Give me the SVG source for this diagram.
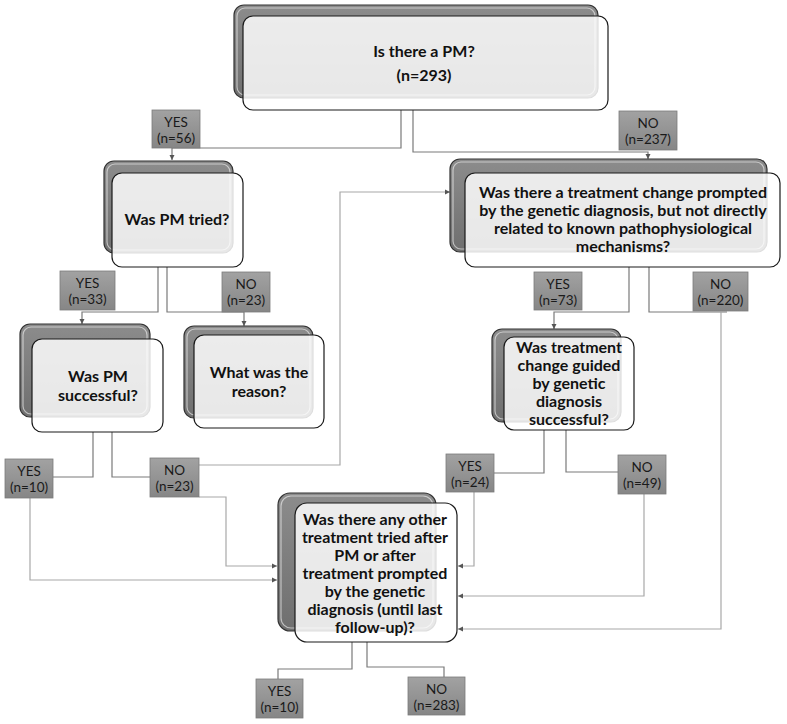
<svg xmlns="http://www.w3.org/2000/svg" width="787" height="724" viewBox="0 0 787 724">
<defs>
<linearGradient id="gBack" x1="0" y1="0" x2="0" y2="1">
<stop offset="0" stop-color="#8c8c8c"/><stop offset="1" stop-color="#6f6f6f"/>
</linearGradient>
<linearGradient id="gLab" x1="0" y1="0" x2="0" y2="1">
<stop offset="0" stop-color="#a2a2a2"/><stop offset="1" stop-color="#868686"/>
</linearGradient>
<marker id="arr" markerWidth="6" markerHeight="6" refX="5" refY="3" orient="auto" markerUnits="userSpaceOnUse">
<path d="M0,0.5 L5,3 L0,5.5 Z" fill="#555"/>
</marker>
<style>
.back{fill:url(#gBack);stroke:#333;stroke-width:1.2}
.gloss{fill:none;stroke:#fff;stroke-opacity:0.55;stroke-width:1.2}
.front{fill:#fff;fill-opacity:0.84;stroke:#1a1a1a;stroke-width:1.2}
.nt{font-family:Lato,"Liberation Sans",Arial,sans-serif;font-weight:bold;font-size:16px;fill:#111;text-anchor:middle}
.lab rect{fill:url(#gLab);stroke:#7c7c7c;stroke-width:0.8}
.lt{font-family:Lato,"Liberation Sans",Arial,sans-serif;font-size:13.5px;fill:#1a1a1a;text-anchor:middle}
.c{fill:none;stroke:#7a7a7a;stroke-width:1.2}
.cl{fill:none;stroke:#a8a8a8;stroke-width:1.2}
.a{marker-end:url(#arr)}
</style>
</defs>
<rect width="787" height="724" fill="#fff"/>

<g id="connectors">
<path class="c a" d="M401,110 V148 H172 V160"/>
<path class="c a" d="M413,110 V152 H648 V159"/>
<path class="c a" d="M158,267 V312 H82 V324"/>
<path class="c a" d="M167,267 V312 H244 V326"/>
<path class="c a" d="M629,267 V312 H554 V329"/>
<path class="c" d="M649,267 V312 H727"/>
<path class="cl a" d="M721,312 V629 H458"/>
<path class="c" d="M93,432 V477 H53"/>
<path class="cl a" d="M30,498 V580 H277"/>
<path class="c" d="M112,432 V477 H150"/>
<path class="cl a" d="M199,465 H340 V192 H450"/>
<path class="cl a" d="M199,497 H226 V566 H277"/>
<path class="c" d="M544,430 V473 H494"/>
<path class="cl a" d="M474,492 V566 H458"/>
<path class="c" d="M566,430 V472 H618"/>
<path class="cl a" d="M644,494 V596 H458"/>
<path class="c" d="M352,642 V669 H278 V679"/>
<path class="c" d="M367,642 V667 H444 V677"/>
</g>

<g id="labels">
<g class="lab"><rect x="152" y="110" width="48" height="38"/><text class="lt" x="176" y="127">YES</text><text class="lt" x="176" y="143">(n=56)</text></g>
<g class="lab"><rect x="619" y="111" width="58" height="39"/><text class="lt" x="648" y="128">NO</text><text class="lt" x="648" y="144">(n=237)</text></g>
<g class="lab"><rect x="60" y="271" width="55" height="39"/><text class="lt" x="87.5" y="288">YES</text><text class="lt" x="87.5" y="304">(n=33)</text></g>
<g class="lab"><rect x="222" y="272" width="48" height="40"/><text class="lt" x="246" y="289">NO</text><text class="lt" x="246" y="305">(n=23)</text></g>
<g class="lab"><rect x="534" y="272" width="48" height="38"/><text class="lt" x="558" y="289">YES</text><text class="lt" x="558" y="305">(n=73)</text></g>
<g class="lab"><rect x="693" y="272" width="55" height="39"/><text class="lt" x="720.5" y="289">NO</text><text class="lt" x="720.5" y="305">(n=220)</text></g>
<g class="lab"><rect x="5" y="459" width="48" height="39"/><text class="lt" x="29" y="476">YES</text><text class="lt" x="29" y="492">(n=10)</text></g>
<g class="lab"><rect x="150" y="458" width="49" height="39"/><text class="lt" x="174.5" y="475">NO</text><text class="lt" x="174.5" y="491">(n=23)</text></g>
<g class="lab"><rect x="446" y="454" width="48" height="38"/><text class="lt" x="470" y="471">YES</text><text class="lt" x="470" y="487">(n=24)</text></g>
<g class="lab"><rect x="618" y="455" width="48" height="39"/><text class="lt" x="642" y="472">NO</text><text class="lt" x="642" y="488">(n=49)</text></g>
<g class="lab"><rect x="256" y="679" width="47" height="39"/><text class="lt" x="279.5" y="696">YES</text><text class="lt" x="279.5" y="712">(n=10)</text></g>
<g class="lab"><rect x="408" y="677" width="57" height="38"/><text class="lt" x="436.5" y="694">NO</text><text class="lt" x="436.5" y="710">(n=283)</text></g>
</g>

<g id="node-pm">
<rect class="back" x="234" y="5" width="364" height="93" rx="10"/>
<rect class="gloss" x="237" y="8" width="358" height="87" rx="8"/>
<rect class="front" x="243" y="16" width="365" height="94" rx="10"/>
<text class="nt" x="424" y="57">Is there a PM?</text>
<text class="nt" x="424" y="81">(n=293)</text>
</g>

<g id="node-tried">
<rect class="back" x="104" y="161" width="129" height="92" rx="10"/>
<rect class="gloss" x="107" y="164" width="123" height="86" rx="8"/>
<rect class="front" x="112" y="173" width="131" height="94" rx="10"/>
<text class="nt" x="177" y="225">Was PM tried?</text>
</g>

<g id="node-success">
<rect class="back" x="20" y="324" width="130" height="93" rx="10"/>
<rect class="gloss" x="23" y="327" width="124" height="87" rx="8"/>
<rect class="front" x="32" y="339" width="131" height="93" rx="10"/>
<text class="nt" x="98" y="382">Was PM</text>
<text class="nt" x="98" y="401">successful?</text>
</g>

<g id="node-reason">
<rect class="back" x="184" y="326" width="129" height="92" rx="10"/>
<rect class="gloss" x="187" y="329" width="123" height="86" rx="8"/>
<rect class="front" x="194" y="335" width="130" height="93" rx="10"/>
<text class="nt" x="259" y="378">What was the</text>
<text class="nt" x="259" y="397">reason?</text>
</g>

<g id="node-change">
<rect class="back" x="450" y="159" width="317" height="93" rx="10"/>
<rect class="gloss" x="453" y="162" width="311" height="87" rx="8"/>
<rect class="front" x="465" y="173" width="315" height="94" rx="10"/>
<text class="nt" x="623" y="198">Was there a treatment change prompted</text>
<text class="nt" x="623" y="216">by the genetic diagnosis, but not directly</text>
<text class="nt" x="623" y="234">related to known pathophysiological</text>
<text class="nt" x="623" y="252">mechanisms?</text>
</g>

<g id="node-guided">
<rect class="back" x="492" y="329" width="129" height="93" rx="10"/>
<rect class="gloss" x="495" y="332" width="123" height="87" rx="8"/>
<rect class="front" x="504" y="337" width="130" height="93" rx="10"/>
<text class="nt" x="569" y="353">Was treatment</text>
<text class="nt" x="569" y="371">change guided</text>
<text class="nt" x="569" y="389">by genetic</text>
<text class="nt" x="569" y="407">diagnosis</text>
<text class="nt" x="569" y="425">successful?</text>
</g>

<g id="node-other">
<rect class="back" x="278" y="493" width="158" height="138" rx="12"/>
<rect class="gloss" x="281" y="496" width="152" height="132" rx="10"/>
<rect class="front" x="295" y="503" width="162" height="139" rx="12"/>
<text class="nt" x="375" y="525">Was there any other</text>
<text class="nt" x="375" y="543">treatment tried after</text>
<text class="nt" x="375" y="561">PM or after</text>
<text class="nt" x="375" y="579">treatment prompted</text>
<text class="nt" x="375" y="597">by the genetic</text>
<text class="nt" x="375" y="615">diagnosis (until last</text>
<text class="nt" x="375" y="633">follow-up)?</text>
</g>
</svg>
